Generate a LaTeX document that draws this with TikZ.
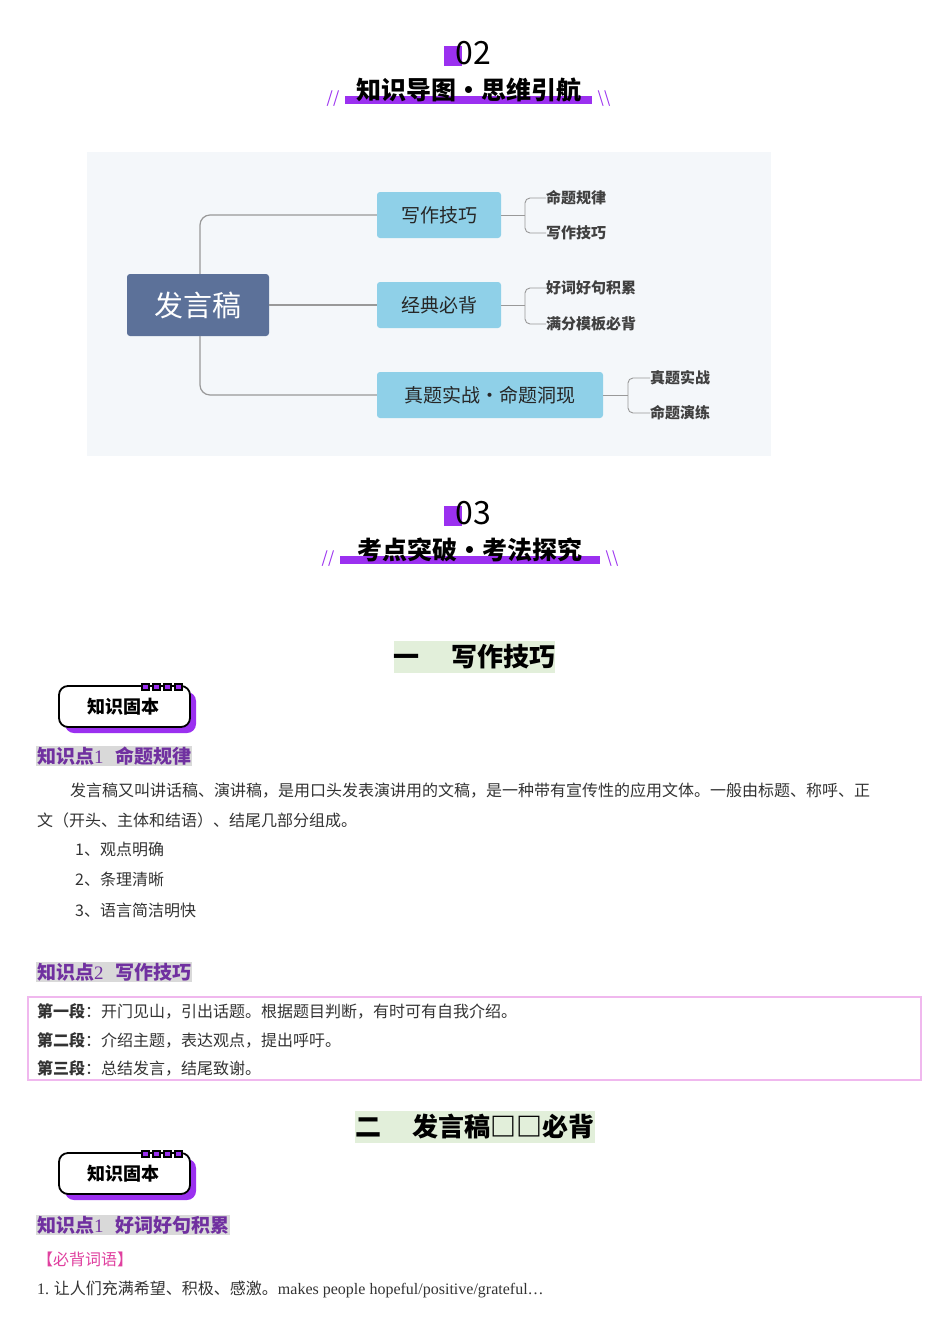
\documentclass[tikz,border=0pt]{standalone}
\usepackage{fontspec}
\setmainfont{Noto Sans CJK SC}
\newfontfamily\lat{Liberation Serif}
\begin{document}
\begin{tikzpicture}[x=1pt,y=-1pt,
  branch/.style={fill=brcol,rounded corners=3pt,font=\fontsize{19}{19}\selectfont,text=black!85,inner sep=0pt,anchor=center},
  leaf/.style={anchor=west,font=\bfseries\fontsize{15}{15}\selectfont,text=black!75,inner sep=0pt},
  ln/.style={draw=black!40,line width=1.2pt},
  body/.style={anchor=west,font=\fontsize{16}{16}\selectfont,text=black!80,inner sep=0pt},
  kp/.style={anchor=west,font=\bfseries\fontsize{19}{19}\selectfont,text=kpc,fill=black!15,inner sep=1pt},
  ttl/.style={font=\bfseries\fontsize{25}{25}\selectfont,inner sep=0pt},
  sec/.style={fill=secg,font=\bfseries\fontsize{26}{26}\selectfont,inner sep=0pt,minimum height=32pt,anchor=center}]
\definecolor{pur}{HTML}{9B30F0}
\definecolor{brcol}{HTML}{8FD0E8}
\definecolor{rootc}{HTML}{5C7199}
\definecolor{secg}{HTML}{E2EFDA}
\definecolor{kpc}{HTML}{7030A0}
\definecolor{pinkb}{HTML}{F0B8EE}
\definecolor{mapbg}{HTML}{F4F7FA}
\definecolor{magc}{HTML}{E0409F}
\useasboundingbox (0,0) rectangle (950,1344);
\fill[white] (0,0) rectangle (950,1344);
% header 02
\foreach \yy/\num/\tt/\xa/\xb in {0/02/知识导图•思维引航/345/592, 460/03/考点突破•考法探究/340/600}{
  \fill[pur] (444,46+\yy) rectangle (462,66+\yy);
  \node[font=\fontsize{32}{32}\selectfont,inner sep=0pt] (n\num) at (473,53+\yy) {\num};
  \fill[pur] (\xa,96+\yy) rectangle (\xb,104+\yy);
  \node[ttl] (t\num) at ({(\xa+\xb)/2},90+\yy) {\tt};
  \node[text=pur,font=\fontsize{16}{16}\selectfont,inner sep=0pt] (sl\num) at (\xa-12,99+\yy) {//};
  \node[text=pur,font=\fontsize{16}{16}\selectfont,inner sep=0pt] (sr\num) at (\xb+12,99+\yy) {\textbackslash\textbackslash};
}
% mind map
\fill[mapbg] (87,152) rectangle (771,456);
\node[fill=rootc,rounded corners=3pt,minimum width=142pt,minimum height=62pt,text=white,font=\fontsize{29}{29}\selectfont] (root) at (198,305) {发言稿};
\node[branch,minimum width=124pt,minimum height=46pt] (b1) at (439,215) {写作技巧};
\node[branch,minimum width=124pt,minimum height=46pt] (b2) at (439,305) {经典必背};
\node[branch,minimum width=226pt,minimum height=46pt] (b3) at (490,395) {真题实战·命题洞现};
\draw[ln,rounded corners=10pt] (root.north-|200,0) -- (200,215) -- (b1.west);
\draw[ln,rounded corners=10pt] (root.south-|200,0) -- (200,395) -- (b3.west);
\draw[ln] (root.east) -- (b2.west);
\node[leaf] (l1) at (546,198) {命题规律};
\node[leaf] (l2) at (546,233) {写作技巧};
\node[leaf] (l3) at (546,288) {好词好句积累};
\node[leaf] (l4) at (546,324) {满分模板必背};
\node[leaf] (l5) at (650,378) {真题实战};
\node[leaf] (l6) at (650,413) {命题演练};
\foreach \b/\x/\la/\lb in {b1/525/l1/l2, b2/525/l3/l4, b3/628/l5/l6}{
  \draw[ln,line width=0.9pt] (\b.east) -- (\x,0|-\b.east);
  \draw[ln,line width=0.9pt,rounded corners=5pt] (\la.west) -- (\x,0|-\la.west) -- (\x,0|-\lb.west) -- (\lb.west);
}
% section one
\node[sec,minimum width=157pt] (s1) at (474.5,657) {一\hspace{1.2em}写作技巧};
% badges
\foreach \yy/\nm in {0/bA, 467/bB}{
  \fill[pur,rounded corners=9pt] (65,692+\yy) rectangle (196,733+\yy);
  \draw[line width=1.8pt,fill=white,rounded corners=9pt] (59,686+\yy) rectangle (190,727+\yy);
  \foreach \i in {0,1,2,3}{\draw[line width=1.2pt,fill=pur] (142+\i*11,684+\yy) rectangle (149+\i*11,690+\yy);}
  \node[font=\bfseries\fontsize{18}{18}\selectfont,inner sep=0pt] (\nm) at (123,707+\yy) {知识固本};
}
\node[kp] (k1) at (36,756) {知识点{\lat\mdseries 1}\hspace{0.6em}命题规律};
\node[body] (p1) at (70,791) {发言稿又叫讲话稿、演讲稿，是用口头发表演讲用的文稿，是一种带有宣传性的应用文体。一般由标题、称呼、正};
\node[body] (p2) at (37,820) {文（开头、主体和结语）、结尾几部分组成。};
\node[body] (p3) at (75,849) {1、观点明确};
\node[body] (p4) at (75,879) {2、条理清晰};
\node[body] (p5) at (75,910) {3、语言简洁明快};
\node[kp] (k2) at (36,972) {知识点{\lat\mdseries 2}\hspace{0.6em}写作技巧};
\draw[pinkb,line width=1.5pt] (28,997) rectangle (921,1080);
\node[body] (q1) at (37,1011) {\textbf{第一段}：开门见山，引出话题。根据题目判断，有时可有自我介绍。};
\node[body] (q2) at (37,1040) {\textbf{第二段}：介绍主题，表达观点，提出呼吁。};
\node[body] (q3) at (37,1068) {\textbf{第三段}：总结发言，结尾致谢。};
\node[sec,minimum width=218pt] (s2) at (475,1127) {二\hspace{1.2em}发言稿□□必背};
\node[kp] (k3) at (36,1225) {知识点{\lat\mdseries 1}\hspace{0.6em}好词好句积累};
\node[body,text=magc] (m1) at (37,1259) {【必背词语】};
\node[body] (m2) at (37,1289) {{\lat 1.} 让人们充满希望、积极、感激。{\lat makes people hopeful/positive/grateful…}};
\end{tikzpicture}
\end{document}
